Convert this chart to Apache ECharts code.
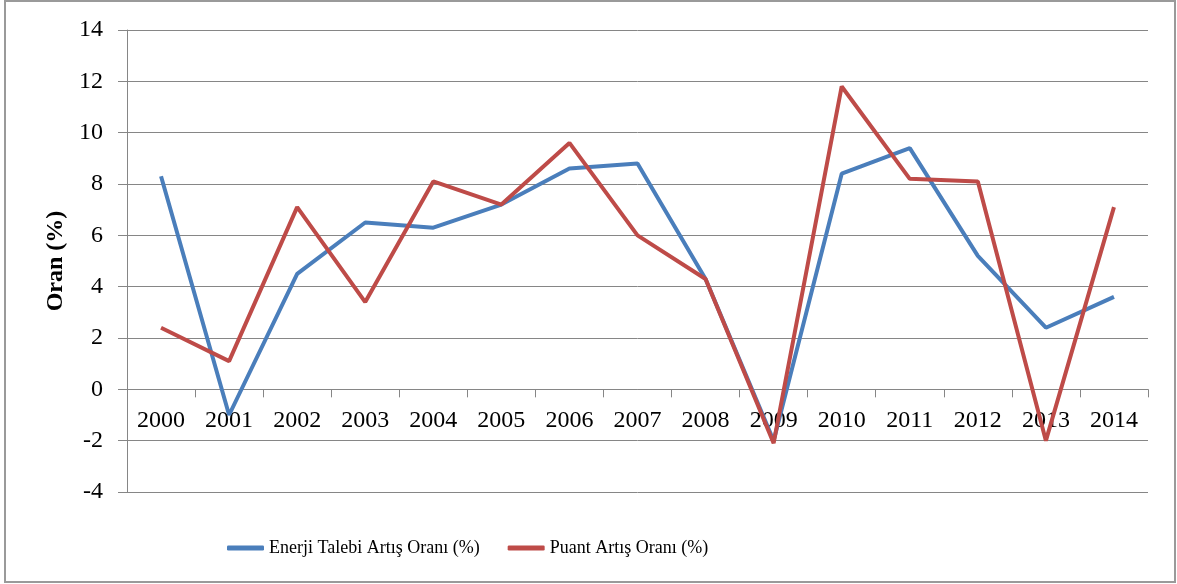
<!DOCTYPE html>
<html>
<head>
<meta charset="utf-8">
<script src="https://cdn.jsdelivr.net/npm/echarts@6/dist/echarts.min.js"></script>
<style>
  html, body { margin: 0; padding: 0; background: #fff; }
  #chart { width: 1177px; height: 584px; }
</style>
</head>
<body>
<div id="chart"></div>
<script>
// values
var years = ['2000', '2001', '2002', '2003', '2004', '2005', '2006', '2007',
             '2008', '2009', '2010', '2011', '2012', '2013', '2014'];
var enerjiTalebi = [8.3, -1.0, 4.5, 6.5, 6.3, 7.2, 8.6, 8.8, 4.3, -2.0, 8.4, 9.4, 5.2, 2.4, 3.6];
var puant = [2.4, 1.1, 7.1, 3.4, 8.1, 7.2, 9.6, 6.0, 4.3, -2.1, 11.8, 8.2, 8.1, -2.0, 7.1];
var yTicks = { min: -4, max: 14, interval: 2 };

var gray = '#868686';
var font = '"Liberation Serif", "Times New Roman", serif';

// plot area, px
var gridTop = 30, gridBottom = 92, plotH = 584 - gridTop - gridBottom;
// the category axis sits on the zero line, labels just under it
var zeroOffset = -plotH * (0 - yTicks.min) / (yTicks.max - yTicks.min);

var chart = echarts.init(document.getElementById('chart'));
chart.setOption({
    animation: false,
    graphic: [{
        type: 'rect',
        shape: { x: 5, y: 1, width: 1170, height: 581 },
        style: { fill: 'none', stroke: '#9a9a9a', lineWidth: 2 },
        silent: true
    }],
    grid: { left: 127, right: 29, top: gridTop, bottom: gridBottom },
    legend: {
        left: 222,
        top: 534,
        icon: 'roundRect',
        itemWidth: 37,
        itemHeight: 5,
        itemGap: 28,
        textStyle: { fontFamily: font, fontSize: 18, color: '#000' },
        data: ['Enerji Talebi Artış Oranı (%)', 'Puant Artış Oranı (%)']
    },
    xAxis: {
        type: 'category',
        data: years,
        boundaryGap: true,
        offset: zeroOffset,
        axisLine: { onZero: false, lineStyle: { color: gray, width: 1 } },
        axisTick: { show: true, length: 8, lineStyle: { color: gray } },
        axisLabel: { margin: 19, fontFamily: font, fontSize: 24, color: '#000', interval: 0 }
    },
    yAxis: {
        type: 'value',
        min: yTicks.min,
        max: yTicks.max,
        interval: yTicks.interval,
        name: 'Oran (%)',
        nameLocation: 'middle',
        nameGap: 57,
        nameTextStyle: { fontFamily: font, fontSize: 24, fontWeight: 'bold', color: '#000' },
        axisLine: { show: true, lineStyle: { color: gray, width: 1 } },
        axisTick: { show: true, length: 9, lineStyle: { color: gray } },
        axisLabel: { margin: 24, fontFamily: font, fontSize: 24, color: '#000' },
        splitLine: { lineStyle: { color: gray, width: 1 } }
    },
    series: [
        {
            name: 'Enerji Talebi Artış Oranı (%)',
            type: 'line',
            data: enerjiTalebi,
            symbol: 'none',
            color: '#4A7EBB',
            lineStyle: { width: 4, color: '#4A7EBB' }
        },
        {
            name: 'Puant Artış Oranı (%)',
            type: 'line',
            data: puant,
            symbol: 'none',
            color: '#BE4B48',
            lineStyle: { width: 4, color: '#BE4B48' }
        }
    ]
});
</script>
</body>
</html>
